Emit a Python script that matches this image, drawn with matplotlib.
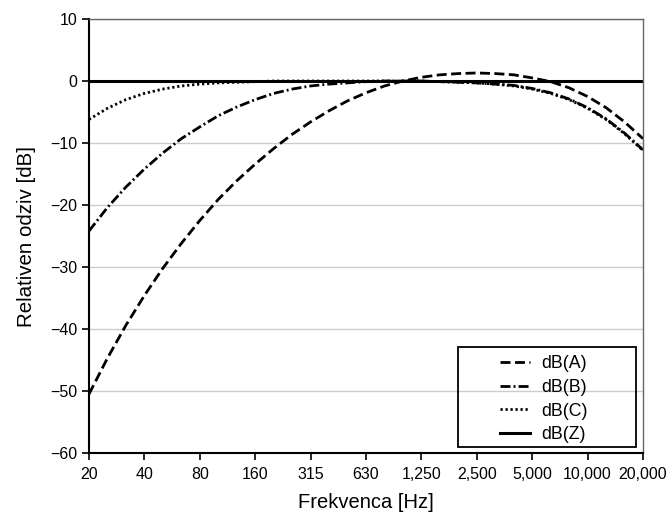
import numpy as np
import matplotlib
matplotlib.use("Agg")
import matplotlib.pyplot as plt
from matplotlib.patches import Rectangle

plt.rcParams['font.family'] = ['Liberation Sans', 'DejaVu Sans']

# third-octave centre frequencies (Hz)
freq = [20, 25, 31.5, 40, 50, 63, 80, 100, 125, 160, 200, 250, 315, 400, 500,
        630, 800, 1000, 1250, 1600, 2000, 2500, 3150, 4000, 5000, 6300, 8000,
        10000, 12500, 16000, 20000]

dbA = [-50.5, -44.7, -39.4, -34.6, -30.2, -26.2, -22.5, -19.1, -16.1, -13.4,
       -10.9, -8.6, -6.6, -4.8, -3.2, -1.9, -0.8, 0.0, 0.6, 1.0, 1.2, 1.3,
       1.2, 1.0, 0.5, -0.1, -1.1, -2.5, -4.3, -6.6, -9.3]
dbB = [-24.2, -20.4, -17.1, -14.2, -11.6, -9.3, -7.4, -5.6, -4.2, -3.0,
       -2.0, -1.3, -0.8, -0.5, -0.3, -0.1, 0.0, 0.0, 0.0, -0.1, -0.2, -0.3,
       -0.5, -0.7, -1.2, -1.9, -2.9, -4.3, -6.1, -8.4, -11.1]
dbC = [-6.2, -4.4, -3.0, -2.0, -1.3, -0.8, -0.5, -0.3, -0.2, -0.1,
       0.0, 0.0, 0.0, 0.0, 0.0, 0.0, 0.0, 0.0, 0.0, -0.1, -0.2, -0.3,
       -0.5, -0.8, -1.3, -2.0, -3.0, -4.4, -6.2, -8.5, -11.2]
dbZ = [0.0] * len(freq)

tick_labels = ['20', '40', '80', '160', '315', '630', '1,250', '2,500',
               '5,000', '10,000', '20,000']

fig = plt.figure(figsize=(6.7, 5.21), dpi=100)
ax = fig.add_axes([0.1328, 0.1305, 0.8269, 0.833])

# the axis is drawn in exact octaves, nominal freqs are put on that grid
x = 20 * 2 ** (np.arange(len(freq)) / 3.0)
tick_x = x[::3]

ax.plot(x, dbA, color='black', lw=2, ls=(0, (3.6, 1.6)), label='dB(A)')
ax.plot(x, dbB, color='black', lw=2, ls=(0, (3.6, 1.1, 0.7, 1.1)), label='dB(B)')
ax.plot(x, dbC, color='black', lw=2, ls=(0, (0.8, 1.0)), label='dB(C)')
ax.plot(x, dbZ, color='black', lw=2.2, ls='-', label='dB(Z)')

ax.set_xscale('log', base=2)
ax.set_xlim(x[0], x[-1])
ax.set_ylim(-60, 10)
ax.set_xticks(tick_x)
ax.set_xticklabels(tick_labels)
ax.minorticks_off()
ax.set_yticks(range(-60, 11, 10))
ax.set_yticklabels(['\u221260', '\u221250', '\u221240', '\u221230', '\u221220',
                    '\u221210', '0', '10'])

ax.yaxis.grid(True, color='#cccccc', lw=1)
ax.set_axisbelow(True)

ax.spines['left'].set_linewidth(1.5)
ax.spines['bottom'].set_linewidth(1.5)
ax.spines['top'].set_color('#666666')
ax.spines['right'].set_color('#666666')
ax.spines['top'].set_linewidth(1.0)
ax.spines['right'].set_linewidth(1.0)

ax.tick_params(axis='both', direction='out', length=5, width=1.2,
               labelsize=11.5, colors='black')
ax.tick_params(axis='x', pad=5)

ax.set_xlabel('Frekvenca [Hz]', fontsize=14.5, labelpad=8)
ax.set_ylabel('Relativen odziv [dB]', fontsize=14.8, labelpad=10)

# legend box is wider than its contents, so the frame is drawn separately
leg = ax.legend(loc='center', bbox_to_anchor=(0.821, 0.124),
                fontsize=12.8, frameon=False, handlelength=1.72,
                borderpad=0, labelspacing=0.38, handletextpad=0.62)
ax.add_patch(Rectangle((0.666, 0.0138), 0.3213, 0.2304, transform=ax.transAxes,
                       facecolor='none', edgecolor='black', lw=1.3, zorder=5))

fig.savefig('out.png', dpi=100)
